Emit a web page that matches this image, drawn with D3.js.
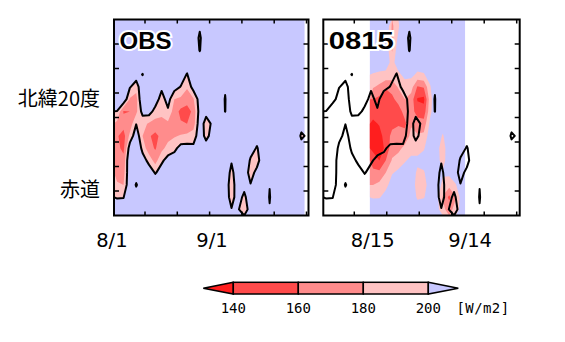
<!DOCTYPE html>
<html><head><meta charset="utf-8">
<script src="https://cdn.jsdelivr.net/npm/d3@7"></script>
<style>body{margin:0;background:#fff}</style>
</head><body><svg id="c" width="565" height="342"></svg>
<script>
// ---------- data ----------
// latitude of each grid row, north -> south (degrees; negative = south)
const gridLats = [33.75,31.25,28.75,26.25,23.75,21.25,18.75,16.25,13.75,11.25,8.75,6.25,3.75,1.25,-1.25,-3.75];
// day ranges (days after 8/1) covered by each field
const obsDayRange = [0.4, 59.4];
const fcstDayRange = [14.8, 44.1];
// observed OLR [W/m2], one array per time column (8/1 .. 9/29), values north -> south
const obsOLR = [
 [236,238,240,240,238,235,225,199,174,162,165,170,174,182,198,215],
 [236,238,240,240,238,235,220,158,168,152,155,166,172,180,199,212],
 [236,238,240,238,230,202,178,160,168,185,212,225,222,220,225,228],
 [236,238,238,232,212,188,172,175,199,215,228,225,212,198,212,222],
 [236,238,235,215,199,220,225,208,185,180,192,212,222,215,222,225],
 [236,238,236,232,225,230,228,210,178,162,168,192,215,218,225,228],
 [236,238,236,234,232,228,212,192,172,155,158,172,198,218,226,230],
 [236,238,236,232,225,205,190,185,174,165,174,196,210,220,226,230],
 [236,238,236,234,230,225,210,196,176,172,188,208,218,224,228,230],
 [236,238,236,232,225,210,180,170,172,178,194,212,220,225,228,230],
 [236,238,236,230,215,199,176,155,162,182,208,218,222,226,228,230],
 [236,236,232,218,198,182,170,150,160,185,208,218,222,226,228,230],
 [220,212,215,222,228,210,178,166,170,190,205,215,222,226,228,230],
 [203,197,199,210,228,222,212,210,215,212,214,220,224,226,228,230],
 [222,215,215,228,230,228,222,208,190,194,210,220,224,226,228,230],
 [236,236,234,234,232,230,225,215,204,208,218,222,224,226,228,230],
 [236,236,236,234,230,220,212,215,220,224,226,226,226,228,228,230],
 [236,236,236,234,228,202,199,199.5,220,224,224,218,215,212,212,215],
 [236,236,236,234,230,226,218,218,228,226,222,202,194,190,192,201],
 [236,236,234,232,232,230,230,230,230,228,224,218,214,212,210,203],
 [236,236,234,232,232,230,230,230,230,228,224,220,212,207,195,186],
 [236,234,234,232,230,230,230,228,226,222,210,197,192,201,215,212],
 [236,234,232,232,230,230,228,226,222,210,198,192,206,215,222,225],
 [236,234,232,230,230,228,228,226,224,220,214,214,218,222,212,225],
 [234,234,232,230,228,228,226,226,224,222,220,220,218,200.5,199,201],
 [234,232,232,230,228,226,226,224,222,220,218,220,220,218,212,222],
 [234,232,230,230,228,226,224,222,220,220,220,222,222,222,224,226],
 [232,232,230,228,226,224,222,220,218,216,218,220,222,224,226,228],
 [232,230,228,226,224,222,220,218,214,210,214,218,220,222,224,226],
 [230,228,226,224,222,220,218,212,205,198,205,214,218,220,222,224]
];
// forecast (initial 8/15) OLR [W/m2], one array per time column, north -> south
const fcstOLR = [
 [230,230,228,215,198,182,160,150,135,128,135,150,165,180,198,215],
 [230,228,225,212,196,175,155,148,142,132,128,140,165,185,198,218],
 [225,220,218,210,195,162,150,152,155,150,145,160,180,192,210,225],
 [176,174,178,194,190,168,155,152,155,165,172,182,198,212,222,228],
 [196,205,215,210,196,182,168,150,158,168,175,188,205,215,225,230],
 [230,228,225,218,205,192,180,168,155,168,185,198,210,218,225,230],
 [230,230,228,220,205,188,172,170,178,185,192,205,212,215,218,228],
 [230,228,222,212,196,158,138,150,170,182,192,205,196,190,196,215],
 [230,228,222,212,198,162,135,148,168,185,198,208,198,192,198,218],
 [232,230,228,222,210,198,192,195,205,212,215,218,212,210,215,225],
 [235,232,230,228,225,222,220,218,215,210,206,206,212,210,208,210],
 [235,232,230,228,225,222,220,215,208,198,192,194,202,196,178,185],
 [235,232,230,228,226,224,222,220,220,215,212,210,205,188,155,172],
 [235,232,230,228,226,224,222,222,222,220,218,218,215,198,178,188],
 [235,232,230,228,226,224,222,222,222,222,220,220,218,215,212,210]
];
const levels = [140,160,180,200];
const levelColors = ["#ff1e1e","#ff4b4b","#ff8c8c","#ffc3c3","#c8c8ff"];
const panelTitles = ["OBS","0815"];
const xTickDays = [10,20,30,40,50,60];
const yTickLats = [0,5,10,15,20,25,30];
const xLabels1 = [{t:"8/1",d:0},{t:"9/1",d:31}];
const xLabels2 = [{t:"8/15",d:14},{t:"9/14",d:44}];
const latLabels = [{t:"北緯20度",lat:20},{t:"赤道",lat:0}];
const unitLabel = "[W/m2]";

// ---------- drawing ----------
const svg = d3.select("#c");
const latExtent = [-5, 35];
const yScale = d3.scaleLinear().domain(latExtent).range([215.5, 19.5]);
const yTop = 19.5, yBot = 215.5;
const latLabelDy = [13, 6];

function toGrid(cols){
  const n = cols.length, m = cols[0].length, v = new Array(n*m);
  for (let r=0;r<m;r++) for (let c=0;c<n;c++) v[r*n+c] = -cols[c][r];
  return {n, m, v};
}
function pathFor(xs, ext, n, m){
  return d3.geoPath(d3.geoTransform({point(x, y){
    this.stream.point(xs(ext[0] + x*(ext[1]-ext[0])/n), yScale(latExtent[1] - y*(latExtent[1]-latExtent[0])/m));
  }}));
}
const obsGrid = toGrid(obsOLR), fcstGrid = toGrid(fcstOLR);
const fillThresholds = levels.slice().reverse().map(v => -v); // -200,-180,-160,-140
const fillColors = levelColors.slice(0,4).reverse();

const panels = [
  {title:panelTitles[0], frame:[114,308.5], xs:d3.scaleLinear().domain([0,60]).range([112.7,306.5]), grid:obsGrid, ext:obsDayRange, labels:xLabels1, tlen:null},
  {title:panelTitles[1], frame:[323.3,519.7], xs:d3.scaleLinear().domain([0,60]).range([321.8,516.7]), grid:fcstGrid, ext:fcstDayRange, labels:xLabels2, tlen:65}
];

panels.forEach((p, i) => {
  const id = "clip"+i;
  svg.append("clipPath").attr("id", id).append("rect")
    .attr("x", p.frame[0]).attr("y", yTop).attr("width", p.frame[1]-p.frame[0]).attr("height", yBot-yTop);
  const g = svg.append("g").attr("clip-path", `url(#${id})`);
  g.append("rect").attr("x", p.xs(p.ext[0])).attr("y", yTop)
    .attr("width", p.xs(p.ext[1]) - p.xs(p.ext[0])).attr("height", yBot-yTop)
    .attr("fill", levelColors[4]);
  const cs = d3.contours().size([p.grid.n, p.grid.m]).thresholds(fillThresholds)(p.grid.v);
  const path = pathFor(p.xs, p.ext, p.grid.n, p.grid.m);
  g.selectAll("path.f").data(cs).join("path").attr("class","f")
    .attr("d", path).attr("fill", (d,k) => fillColors[k]).attr("stroke", "none");
  const line = d3.contours().size([obsGrid.n, obsGrid.m]).thresholds([-200])(obsGrid.v);
  const lpath = pathFor(p.xs, obsDayRange, obsGrid.n, obsGrid.m);
  g.selectAll("path.l").data(line).join("path").attr("class","l")
    .attr("d", lpath).attr("fill","none").attr("stroke","#000").attr("stroke-width",2).attr("stroke-linejoin","round");

  const tk = svg.append("g").attr("stroke","#000").attr("stroke-width",1.5);
  xTickDays.forEach(d => {
    const x = p.xs(d);
    if (x < p.frame[0]+1 || x > p.frame[1]-1) return;
    tk.append("line").attr("x1",x).attr("x2",x).attr("y1",yTop).attr("y2",yTop+4);
    tk.append("line").attr("x1",x).attr("x2",x).attr("y1",yBot).attr("y2",yBot-4);
  });
  yTickLats.forEach(l => {
    const y = yScale(l);
    tk.append("line").attr("x1",p.frame[0]).attr("x2",p.frame[0]+5).attr("y1",y).attr("y2",y);
    tk.append("line").attr("x1",p.frame[1]).attr("x2",p.frame[1]-5).attr("y1",y).attr("y2",y);
  });
  svg.append("rect").attr("x", p.frame[0]).attr("y", yTop).attr("width", p.frame[1]-p.frame[0]).attr("height", yBot-yTop)
    .attr("fill","none").attr("stroke","#000").attr("stroke-width",2);
  const tt = svg.append("text").attr("x", p.frame[0]+5.5).attr("y", 48.5)
    .attr("font-family","Liberation Sans, Arial, sans-serif").attr("font-weight","bold").attr("font-size",24)
    .attr("stroke","#fff").attr("stroke-width",4).attr("paint-order","stroke").attr("fill","#000")
    .text(p.title);
  if (p.tlen) tt.attr("textLength", p.tlen).attr("lengthAdjust","spacingAndGlyphs");
  p.labels.forEach(l => {
    svg.append("text").attr("x", p.xs(l.d) - 16.5).attr("y", 246.5)
      .attr("font-family","DejaVu Sans, Verdana, sans-serif").attr("font-size",19.5).attr("fill","#000")
      .text(l.t);
  });
});

latLabels.forEach((l, k) => {
  svg.append("text").attr("x", 100).attr("y", yScale(l.lat) + latLabelDy[k])
    .attr("text-anchor","end").attr("font-family","Noto Sans CJK JP, sans-serif").attr("font-size",20).attr("fill","#000")
    .text(l.t);
});

const cbx = d3.scaleLinear().domain([levels[0], levels[3]]).range([233.3, 428.3]);
const cbTop = 282.3, cbBot = 294, cbMid = (cbTop+cbBot)/2, tri = 30;
const cb = svg.append("g").attr("stroke","#000").attr("stroke-width",1.5);
cb.append("path").attr("d", `M${cbx(levels[0])},${cbTop}L${cbx(levels[0])-tri},${cbMid}L${cbx(levels[0])},${cbBot}Z`).attr("fill", levelColors[0]);
for (let k=0;k<3;k++){
  cb.append("rect").attr("x", cbx(levels[k])).attr("y", cbTop).attr("width", cbx(levels[k+1])-cbx(levels[k])).attr("height", cbBot-cbTop)
    .attr("fill", levelColors[k+1]);
}
cb.append("path").attr("d", `M${cbx(levels[3])},${cbTop}L${cbx(levels[3])+tri},${cbMid}L${cbx(levels[3])},${cbBot}Z`).attr("fill", levelColors[4]);
levels.forEach(v => {
  svg.append("text").attr("x", cbx(v)).attr("y", 313).attr("text-anchor","middle")
    .attr("font-family","DejaVu Sans Mono, monospace").attr("font-size",14).attr("fill","#000").text(v);
});
svg.append("text").attr("x", 456.5).attr("y", 313)
  .attr("font-family","DejaVu Sans Mono, monospace").attr("font-size",14).attr("letter-spacing",0.4).attr("fill","#000").text(unitLabel);
</script></body></html>
